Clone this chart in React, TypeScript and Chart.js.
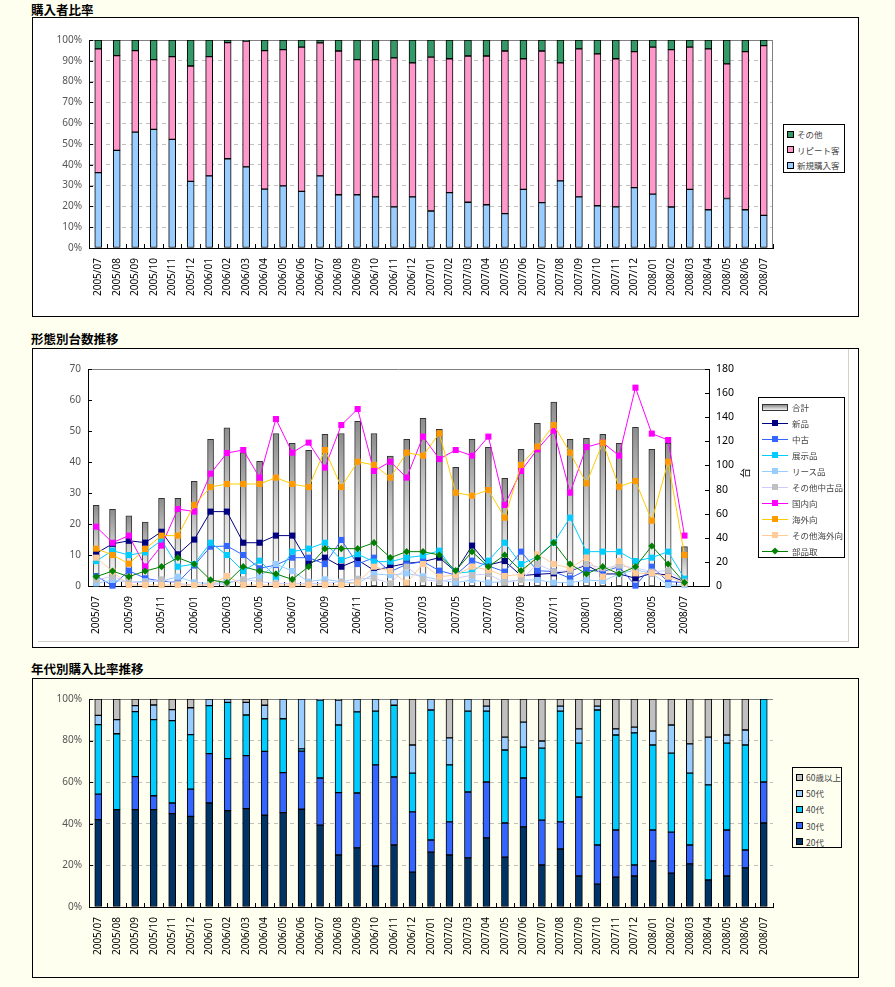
import React, { useEffect, useRef } from 'react';
import { Chart, registerables } from 'chart.js';

Chart.register(...registerables);

// ---------- categories ----------
const MONTHS = [
  '2005/07', '2005/08', '2005/09', '2005/10', '2005/11', '2005/12',
  '2006/01', '2006/02', '2006/03', '2006/04', '2006/05', '2006/06',
  '2006/07', '2006/08', '2006/09', '2006/10', '2006/11', '2006/12',
  '2007/01', '2007/02', '2007/03', '2007/04', '2007/05', '2007/06',
  '2007/07', '2007/08', '2007/09', '2007/10', '2007/11', '2007/12',
  '2008/01', '2008/02', '2008/03', '2008/04', '2008/05', '2008/06', '2008/07',
];
const TREND_MONTHS = [...MONTHS, '2008/08'];

// ---------- chart 1 : 購入者比率 (%) ----------
const RATIO_LABELS = ['その他', 'リピート客', '新規購入客'];
const RATIO_NEW = [36.2, 46.9, 55.7, 57.0, 52.2, 32.0, 34.7, 42.9, 39.0, 28.3, 29.9, 27.2, 34.7, 25.6, 25.6, 24.6, 19.8, 24.6, 17.8, 26.6, 22.0, 20.8, 16.5, 28.2, 21.8, 32.3, 24.6, 20.3, 19.8, 29.0, 25.9, 19.7, 28.2, 18.4, 23.8, 18.4, 15.7];
const RATIO_REPEAT = [59.5, 45.6, 39.2, 33.6, 39.8, 55.5, 57.3, 55.8, 60.5, 66.6, 65.5, 69.4, 63.9, 69.1, 65.0, 66.0, 71.6, 64.4, 74.0, 64.4, 70.3, 71.5, 78.2, 62.8, 72.9, 56.7, 71.1, 73.0, 71.2, 65.4, 70.7, 75.7, 68.4, 77.3, 64.7, 76.0, 81.6];
const RATIO_OTHER = [4.3, 7.5, 5.1, 9.4, 8.0, 12.5, 8.0, 1.3, 0.5, 5.1, 4.6, 3.4, 1.4, 5.3, 9.4, 9.4, 8.6, 11.0, 8.2, 9.0, 7.7, 7.7, 5.3, 9.0, 5.3, 11.0, 4.3, 6.7, 9.0, 5.6, 3.4, 4.6, 3.4, 4.3, 11.5, 5.6, 2.7];

// ---------- chart 2 : 形態別台数推移 ----------
const TREND_LABELS = ['合計', '新品', '中古', '展示品', 'リース品', 'その他中古品', '国内向', '海外向', 'その他海外向', '部品取'];
const TOTAL_UNITS = [26.0, 24.7, 22.6, 20.6, 28.3, 28.3, 33.8, 47.3, 51.0, 43.0, 40.2, 49.2, 46.0, 43.8, 48.9, 49.2, 53.1, 49.2, 41.9, 47.3, 54.1, 50.5, 38.3, 47.3, 44.7, 34.7, 44.1, 52.5, 59.3, 47.3, 47.6, 48.9, 46.0, 51.2, 44.1, 46.0, 12.7];
const UNITS_NEW = [27.1, 35, 37.5, 36, 45, 26.3, 38.5, 61.7, 61.7, 35.9, 35.9, 41.8, 41.8, 18.8, 23.5, 16, 21.6, 13, 16, 18.8, 20.2, 23.5, 11.9, 33.5, 17.4, 20.7, 8.6, 9.7, 10.5, 12.4, 17.4, 10, 10, 6.4, 10.5, 9.1, 3.6];
const UNITS_USED = [8.3, 0.3, 12.7, 6.4, 4, 3, 17, 32.6, 33.2, 25.7, 14.7, 17.4, 23.5, 23.5, 18.2, 38.2, 18.2, 23.5, 11.9, 18, 20.2, 12.7, 9.1, 21, 16.6, 11.9, 28.5, 12.7, 12, 6.4, 13.3, 11.9, 16, 0.3, 16, 3.6, 3];
const UNITS_DISPLAY = [20.7, 29.3, 25.7, 27.9, 37.9, 16, 18.2, 35.9, 25.7, 12.4, 21, 7.7, 28.5, 31, 35.9, 21.6, 26.3, 20.2, 20.2, 23.5, 25.2, 29.3, 10.5, 11.9, 21, 35.9, 18.2, 24.3, 35.9, 56.7, 28.5, 28.5, 28.5, 20.7, 23.5, 28.5, 6.1];
const UNITS_LEASE = [2.2, 5, 3, 4, 4, 7.7, 3, 2, 3, 5, 7.7, 18.2, 12.4, 3.6, 5.5, 3.6, 2.2, 10, 9, 10.5, 8, 5, 2.8, 5, 2.8, 3.6, 5, 5, 2.8, 2.8, 5, 4.1, 10, 13.3, 10.5, 0.8, 0.8];
const UNITS_OTHER_USED = [5, 8, 3, 3, 5.5, 2, 1, 1, 2, 5.5, 3.6, 2.2, 2.2, 2.2, 2.2, 3.6, 6, 6.4, 2.2, 16, 5.5, 3.6, 6.4, 9, 10, 2.8, 5, 18.2, 12, 12.7, 18.2, 14.7, 16.9, 15, 11.9, 12.7, 3.6];
const UNITS_DOMESTIC = [49.2, 35.9, 41.8, 16.3, 33.5, 63.9, 61.7, 93.2, 110.3, 112.8, 89.9, 138.5, 110.6, 118.9, 98.2, 133.5, 146.8, 95.4, 103.1, 89.9, 123.9, 105.3, 112.8, 108.1, 123.9, 67.2, 95.4, 113.4, 128.8, 77.4, 115.3, 118.9, 108.1, 164.5, 126.4, 121.1, 41.8];
const UNITS_EXPORT = [31, 25.7, 18.5, 30.7, 41.8, 41.8, 67.2, 82.1, 84.6, 84.6, 84.6, 89.9, 84.6, 82.1, 112.8, 82.1, 103.1, 100.4, 89.9, 110.6, 108.1, 126.6, 77.4, 74.9, 79.6, 56.7, 100.4, 115.6, 133.5, 110.6, 85.2, 118.9, 82.4, 87.1, 54.2, 103.1, 25.7];
const UNITS_OTHER_EXPORT = [23.5, 12, 0.8, 0.8, 0.8, 0.8, 0.8, 0.8, 8.3, 0.8, 0.8, 0.8, 0.8, 0.8, 0.8, 0.8, 2.8, 16, 12.4, 2.8, 18.2, 7.7, 9.1, 16, 13.3, 8.3, 9.7, 26.3, 18.2, 14.7, 23.5, 7.7, 20.7, 10.5, 10.5, 7.7, 2.2];
const UNITS_PARTS = [7.7, 12.4, 7.7, 12.4, 16, 23.5, 18.2, 5, 2.8, 16, 12.4, 10, 5.5, 16, 31, 31, 31, 35.9, 23.5, 28.5, 28.5, 25.7, 12.7, 28.5, 16, 25.7, 12.7, 23.5, 35.9, 18.2, 10, 16, 10, 16, 33.2, 18.2, 2.8];
const TREND_UNIT = '台';

// ---------- chart 3 : 年代別購入比率推移 (%) ----------
const AGE_LABELS = ['60歳以上', '50代', '40代', '30代', '20代'];
const AGE_20S = [42, 46.8, 46.8, 46.8, 44.9, 43.6, 50, 46.3, 47.3, 44.1, 45.4, 47, 39.4, 25, 28.4, 19.7, 29.8, 16.8, 26.4, 25, 23.6, 33.2, 24, 38.5, 20.2, 27.9, 14.9, 11, 14.4, 14.9, 22.1, 16.3, 20.7, 13, 14.9, 18.8, 40.4];
const AGE_30S = [12.3, 0, 15.9, 6.7, 5.1, 13.1, 23.7, 25, 25.5, 30.7, 19.2, 28, 22.6, 30, 26.4, 48.6, 32.7, 28.9, 5.8, 15.9, 31.7, 26.9, 16.4, 23.5, 21.6, 13, 38, 18.8, 22.6, 5.3, 14.9, 19.7, 9.1, 0, 22.1, 8.6, 19.7];
const AGE_40S = [33.4, 36.5, 31.2, 36.6, 39.6, 26.2, 23.1, 27.1, 19.5, 15.7, 25.9, 1, 37.5, 32.5, 39, 25.9, 34.5, 18.7, 62.5, 27.4, 38.9, 34.1, 35.1, 14.9, 34.6, 53.3, 25.9, 64.9, 45.7, 63.5, 40.9, 38, 34.6, 45.7, 41.8, 50.5, 39.9];
const AGE_50S = [4.4, 6.8, 2.9, 7, 5.3, 12.9, 3.2, 1.6, 6.1, 6.5, 9.5, 24, 0.5, 12, 6.2, 5.8, 3, 13.5, 5.3, 13, 5.8, 2.4, 6.2, 12, 3.4, 2.4, 6.8, 1.9, 2.9, 2.8, 6.7, 13.5, 14, 23, 3.9, 7.2, 0];
const AGE_60PLUS = [7.9, 9.9, 3.2, 2.9, 5.1, 4.2, 0, 0, 1.6, 3, 0, 0, 0, 0.5, 0, 0, 0, 22.1, 0, 18.7, 0, 3.4, 18.3, 11.1, 20.2, 3.4, 14.4, 3.4, 14.4, 13.5, 15.4, 12.5, 21.6, 18.3, 17.3, 14.9, 0];

// ---------- styling ----------
const PAGE_BG = '#FFFFF0';
const NUM_FONT = "'Noto Sans', 'DejaVu Sans', sans-serif";
const JP_FONT = "'Noto Sans CJK JP', 'Noto Sans', sans-serif";

const framePlugin = {
  id: 'frame',
  beforeDatasetsDraw(chart: any, _args: any, opts: any) {
    const { ctx, chartArea: a } = chart;
    if (!a) return;
    ctx.save();
    ctx.lineWidth = 1;
    ctx.strokeStyle = '#808080';
    ctx.beginPath();
    if (opts.top) {
      ctx.moveTo(a.left, Math.round(a.top) + 0.5);
      ctx.lineTo(a.right, Math.round(a.top) + 0.5);
    }
    if (opts.right) {
      ctx.moveTo(Math.round(a.right) - 0.5, a.top);
      ctx.lineTo(Math.round(a.right) - 0.5, a.bottom);
    }
    ctx.stroke();
    ctx.strokeStyle = '#000';
    ctx.beginPath();
    (opts.yTicks || []).forEach((s: any) => {
      const sc = chart.scales[s.id];
      sc.ticks.forEach((_t: any, i: number) => {
        const y = Math.round(sc.getPixelForTick(i)) + 0.5;
        const x0 = s.side === 'right' ? a.right : a.left;
        const dx = s.side === 'right' ? -4 : 4;
        ctx.moveTo(x0, y);
        ctx.lineTo(x0 + dx, y);
      });
    });
    if (opts.xTicks) {
      const sc = chart.scales.x;
      const n = chart.data.labels.length;
      const slot = sc.getPixelForValue(1) - sc.getPixelForValue(0);
      for (let i = 0; i <= n; i++) {
        const x = Math.round(sc.getPixelForValue(0) - slot / 2 + i * slot) + 0.5;
        ctx.moveTo(x, a.bottom);
        ctx.lineTo(x, a.bottom - 4);
      }
    }
    ctx.stroke();
    ctx.restore();
  },
};

const baseXTicks = {
  autoSkip: false,
  maxRotation: 90,
  minRotation: 90,
  padding: 10,
  color: '#000',
  font: { family: NUM_FONT, size: 10 },
};

function stackedConfig(datasets: any[], step: number, top: number, xHeight: number, rightBorder: boolean) {
  return {
    type: 'bar',
    data: { labels: MONTHS, datasets },
    options: {
      responsive: false,
      animation: false,
      events: [],
      layout: { padding: { left: 0, top, right: 85, bottom: 0 } },
      plugins: {
        legend: { display: false },
        tooltip: { enabled: false },
        frame: { top: true, right: rightBorder, yTicks: [{ id: 'y', side: 'left' }], xTicks: true },
      },
      scales: {
        x: {
          stacked: true,
          offset: true,
          grid: { display: false, drawTicks: false },
          border: { display: true, color: '#000', width: 1 },
          ticks: baseXTicks,
          afterFit: (s: any) => { s.height = xHeight; },
        },
        y: {
          stacked: true,
          min: 0,
          max: 100,
          ticks: {
            stepSize: step,
            padding: 7,
            color: '#555',
            font: { family: NUM_FONT, size: 10 },
            callback: (v: any) => v + '%',
          },
          grid: { color: '#C0C0C0', drawTicks: false, lineWidth: 1 },
          border: { display: true, color: '#000', width: 1, dash: [4, 4] },
          afterFit: (s: any) => { s.width = 56; },
        },
      },
    },
    plugins: [framePlugin],
  };
}

function segment(label: string, data: number[], color: string) {
  return {
    label,
    data,
    backgroundColor: color,
    borderColor: '#000',
    borderWidth: 1,
    borderSkipped: false,
    barThickness: 7,
  };
}

function barGradient(ctx: any) {
  const chart = ctx.chart;
  const area = chart.chartArea;
  if (!area || ctx.type !== 'data' || !chart.scales.y) return '#b0b0b0';
  const ys = chart.scales.y;
  const top = ys.getPixelForValue(ctx.raw);
  const bottom = ys.getPixelForValue(0);
  if (!isFinite(top) || !isFinite(bottom) || bottom - top < 1) return '#b0b0b0';
  const g = chart.ctx.createLinearGradient(0, top, 0, bottom);
  g.addColorStop(0, '#8c8c8c');
  g.addColorStop(0.5, '#d4d4d4');
  g.addColorStop(0.85, '#f4f4f4');
  g.addColorStop(1, '#ffffff');
  return g;
}

const LINE_STYLES = [
  { data: UNITS_NEW, line: '#000080', marker: '#000080', shape: 'rect' },
  { data: UNITS_USED, line: '#3366FF', marker: '#3366FF', shape: 'rect' },
  { data: UNITS_DISPLAY, line: '#00CCFF', marker: '#00CCFF', shape: 'rect' },
  { data: UNITS_LEASE, line: '#99CCFF', marker: '#99CCFF', shape: 'rect' },
  { data: UNITS_OTHER_USED, line: '#CCCCFF', marker: '#C0C0C0', shape: 'rect' },
  { data: UNITS_DOMESTIC, line: '#FF00FF', marker: '#FF00FF', shape: 'rect' },
  { data: UNITS_EXPORT, line: '#FFCC00', marker: '#FF9900', shape: 'rect' },
  { data: UNITS_OTHER_EXPORT, line: '#FFCC99', marker: '#FFCC99', shape: 'rect' },
  { data: UNITS_PARTS, line: '#008000', marker: '#008000', shape: 'rectRot' },
];

function trendConfig() {
  const lines = LINE_STYLES.map((s, i) => ({
    type: 'line',
    label: TREND_LABELS[i + 1],
    data: s.data,
    yAxisID: 'y2',
    borderColor: s.line,
    backgroundColor: s.marker,
    pointBackgroundColor: s.marker,
    pointBorderWidth: 0,
    pointStyle: s.shape,
    pointRadius: s.shape === 'rectRot' ? 3.6 : 4.3,
    borderWidth: 1,
    tension: 0,
    clip: false,
    order: 9 - i,
  }));
  return {
    type: 'bar',
    data: {
      labels: TREND_MONTHS,
      datasets: [
        {
          type: 'bar',
          label: TREND_LABELS[0],
          data: TOTAL_UNITS,
          yAxisID: 'y',
          backgroundColor: barGradient,
          borderColor: '#333',
          borderWidth: 1,
          borderSkipped: false,
          barThickness: 6,
          order: 20,
        },
        ...lines,
      ],
    },
    options: {
      responsive: false,
      animation: false,
      events: [],
      layout: { padding: { left: 0, top: 20, right: 119, bottom: 0 } },
      plugins: {
        legend: { display: false },
        tooltip: { enabled: false },
        frame: { top: true, right: false, yTicks: [{ id: 'y', side: 'left' }, { id: 'y2', side: 'right' }], xTicks: true },
      },
      scales: {
        x: {
          offset: true,
          grid: { display: false, drawTicks: false },
          border: { display: true, color: '#000', width: 1 },
          ticks: {
            ...baseXTicks,
            callback: function (this: any, v: any, i: number) {
              return i % 2 === 0 ? this.getLabelForValue(v) : '';
            },
          },
          afterFit: (s: any) => { s.height = 61; },
        },
        y: {
          position: 'left',
          min: 0,
          max: 70,
          ticks: { stepSize: 10, padding: 7, color: '#555', font: { family: NUM_FONT, size: 10 } },
          grid: { display: false, drawTicks: false },
          border: { display: true, color: '#000', width: 1 },
          afterFit: (s: any) => { s.width = 55; },
        },
        y2: {
          position: 'right',
          min: 0,
          max: 180,
          ticks: { stepSize: 20, padding: 7, color: '#000', font: { family: NUM_FONT, size: 10.5 } },
          grid: { display: false, drawTicks: false },
          border: { display: true, color: '#000', width: 1 },
          afterFit: (s: any) => { s.width = 30; },
        },
      },
    },
    plugins: [framePlugin],
  };
}

function ChartCanvas({ make, left, top, width, height }: any) {
  const ref = useRef<HTMLCanvasElement | null>(null);
  useEffect(() => {
    const chart = new Chart(ref.current as HTMLCanvasElement, make() as any);
    return () => chart.destroy();
  }, []);
  return (
    <canvas
      ref={ref}
      width={width}
      height={height}
      style={{ position: 'absolute', left, top, width, height }}
    />
  );
}

const abs = (o: any) => ({ position: 'absolute', ...o } as React.CSSProperties);

function Title({ text, top }: { text: string; top: number }) {
  return (
    <div style={abs({ left: 31, top, fontFamily: JP_FONT, fontWeight: 700, fontSize: 12.5, lineHeight: '16px', color: '#000', whiteSpace: 'nowrap' })}>
      {text}
    </div>
  );
}

function Panel({ top, bg }: { top: number; bg: string }) {
  return <div style={abs({ left: 32, top, width: 825, height: 298, border: '1px solid #000', background: bg })} />;
}

function SquareLegend({ left, top, width, height, rowTop, rowGap, items, bg }: any) {
  return (
    <div style={abs({ left, top, width, height, border: '1px solid #000', background: bg, boxSizing: 'border-box' })}>
      {items.map((it: any, i: number) => (
        <div key={i} style={abs({ left: 3, top: rowTop + i * rowGap - 6, height: 12, display: 'flex', alignItems: 'center', whiteSpace: 'nowrap' })}>
          <span style={{ display: 'inline-block', width: 5, height: 5, border: '1px solid #000', background: it.color, marginRight: 3 }} />
          <span style={{ fontFamily: JP_FONT, fontSize: 8.5, color: '#444', lineHeight: '12px' }}>{it.label}</span>
        </div>
      ))}
    </div>
  );
}

export default function App() {
  const trendLegend = [
    { label: TREND_LABELS[0], bar: true },
    ...LINE_STYLES.map((s, i) => ({ label: TREND_LABELS[i + 1], line: s.line, marker: s.marker, shape: s.shape })),
  ];
  return (
    <div style={abs({ left: 0, top: 0, width: 895, height: 987, background: PAGE_BG, overflow: 'hidden' })}>
      {/* chart 1 */}
      <Title text="購入者比率" top={2} />
      <Panel top={17} bg="#FFFFFF" />
      <ChartCanvas
        left={33}
        top={19}
        width={825}
        height={298}
        make={() =>
          stackedConfig(
            [
              segment(RATIO_LABELS[2], RATIO_NEW, '#99CCFF'),
              segment(RATIO_LABELS[1], RATIO_REPEAT, '#FF99CC'),
              segment(RATIO_LABELS[0], RATIO_OTHER, '#339966'),
            ],
            10,
            21,
            69,
            true,
          )
        }
      />
      <SquareLegend
        left={783}
        top={124}
        width={62}
        height={49}
        rowTop={9}
        rowGap={15.5}
        bg="#FFFFFF"
        items={[
          { label: RATIO_LABELS[0], color: '#339966' },
          { label: RATIO_LABELS[1], color: '#FF99CC' },
          { label: RATIO_LABELS[2], color: '#99CCFF' },
        ]}
      />

      {/* chart 2 */}
      <Title text="形態別台数推移" top={331} />
      <Panel top={348} bg="#FFFFFF" />
      <div style={abs({ left: 38, top: 349, width: 810, height: 292, borderRight: '1px solid #D4D0C8', borderBottom: '1px solid #D4D0C8' })} />
      <ChartCanvas left={33} top={349} width={825} height={298} make={trendConfig} />
      <div
        style={abs({ left: 739, top: 467, width: 12, height: 12, fontFamily: JP_FONT, fontSize: 10, lineHeight: '12px', textAlign: 'center', transform: 'rotate(-90deg)', color: '#000' })}
      >
        {TREND_UNIT}
      </div>
      <div style={abs({ left: 758, top: 397, width: 87, height: 161, border: '1px solid #000', background: '#FFFFFF', boxSizing: 'border-box' })}>
        {trendLegend.map((it: any, i: number) => (
          <div key={i} style={abs({ left: 3, top: 9 + i * 16 - 6, width: 82, height: 12 })}>
            {it.bar ? (
              <span style={abs({ left: 0, top: 3, width: 24, height: 5, border: '1px solid #333', background: 'linear-gradient(to bottom, #8c8c8c, #f0f0f0)' })} />
            ) : (
              <>
                <span style={abs({ left: 0, top: 5.5, width: 26, height: 1, background: it.line })} />
                <span
                  style={abs({
                    left: 10,
                    top: 3,
                    width: 6,
                    height: 6,
                    background: it.marker,
                    transform: it.shape === 'rectRot' ? 'rotate(45deg) scale(0.85)' : 'none',
                  })}
                />
              </>
            )}
            <span style={abs({ left: 30, top: 0, fontFamily: JP_FONT, fontSize: 8.5, lineHeight: '12px', color: '#444', whiteSpace: 'nowrap' })}>
              {it.label}
            </span>
          </div>
        ))}
      </div>

      {/* chart 3 */}
      <Title text="年代別購入比率推移" top={661} />
      <Panel top={678} bg={PAGE_BG} />
      <ChartCanvas
        left={33}
        top={679}
        width={825}
        height={299}
        make={() =>
          stackedConfig(
            [
              segment(AGE_LABELS[4], AGE_20S, '#003366'),
              segment(AGE_LABELS[3], AGE_30S, '#3366FF'),
              segment(AGE_LABELS[2], AGE_40S, '#00CCFF'),
              segment(AGE_LABELS[1], AGE_50S, '#99CCFF'),
              segment(AGE_LABELS[0], AGE_60PLUS, '#C0C0C0'),
            ],
            20,
            20,
            71,
            false,
          )
        }
      />
      <SquareLegend
        left={792}
        top={767}
        width={50}
        height={81}
        rowTop={9}
        rowGap={16.2}
        bg={PAGE_BG}
        items={[
          { label: AGE_LABELS[0], color: '#C0C0C0' },
          { label: AGE_LABELS[1], color: '#99CCFF' },
          { label: AGE_LABELS[2], color: '#00CCFF' },
          { label: AGE_LABELS[3], color: '#3366FF' },
          { label: AGE_LABELS[4], color: '#003366' },
        ]}
      />
    </div>
  );
}
